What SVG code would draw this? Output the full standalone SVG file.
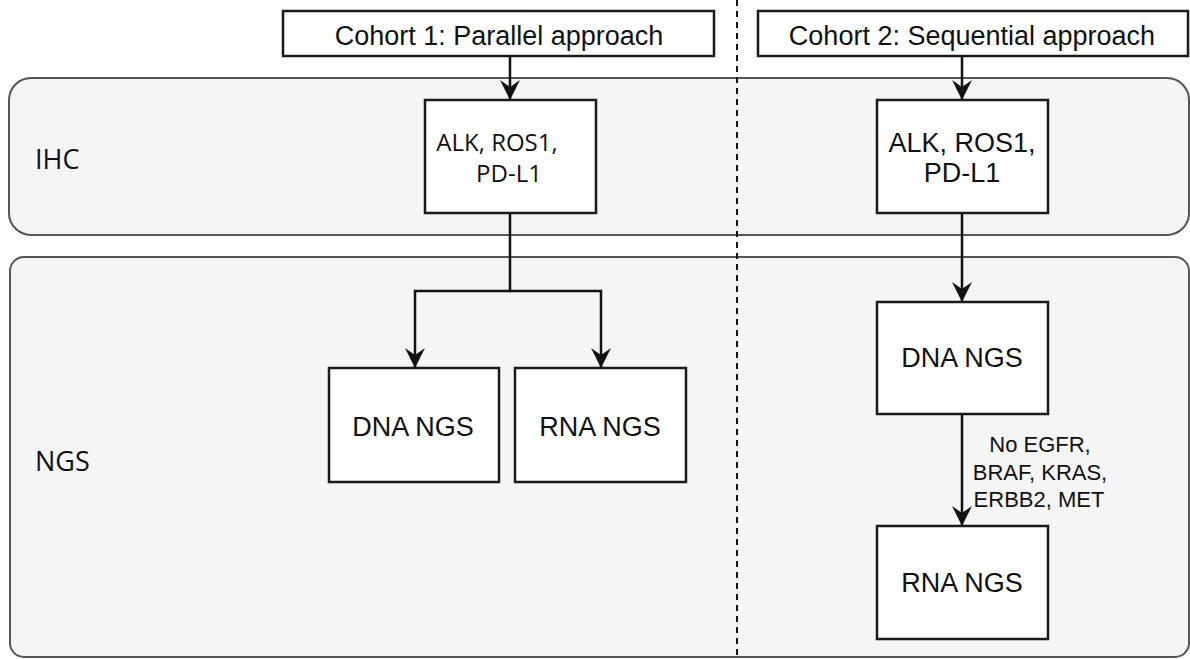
<svg xmlns="http://www.w3.org/2000/svg" width="1190" height="659" viewBox="0 0 1190 659">
<defs>
<marker id="arr" markerWidth="20" markerHeight="20" refX="20" refY="10" orient="auto" markerUnits="userSpaceOnUse" viewBox="0 0 20 20">
<path d="M0,0 L20,10 L0,20 L7,10 Z" fill="#111"/>
</marker>
<style>
.panel{fill:#f5f5f5;stroke:#555;stroke-width:2}
.box{fill:#fff;stroke:#1a1a1a;stroke-width:2.5}
.t{font-family:"Liberation Sans",Arial,sans-serif;fill:#111;text-anchor:middle}
.o{font-family:"Open Sans","Noto Sans",sans-serif;fill:#111}
.c{fill:none;stroke:#111;stroke-width:2.5}
</style>
</defs>
<rect width="1190" height="659" fill="#fff"/>
<g id="lane-ihc"><rect class="panel" x="9" y="78" width="1180" height="157" rx="22"/><text class="o" x="35" y="169" font-size="27">IHC</text></g>
<g id="lane-ngs"><rect class="panel" x="10" y="257" width="1179" height="400" rx="14"/><text class="o" x="35" y="471" font-size="27">NGS</text></g>
<line x1="737" y1="0" x2="737" y2="659" stroke="#111" stroke-width="2" stroke-dasharray="6,5"/>
<g id="cohort1"><rect class="box" x="283" y="11" width="431" height="45"/><text class="t" x="499" y="45" font-size="27">Cohort 1: Parallel approach</text></g>
<g id="cohort2"><rect class="box" x="758" y="11" width="430" height="45"/><text class="t" x="972" y="45" font-size="27">Cohort 2: Sequential approach</text></g>
<g id="ihc1"><rect class="box" x="425" y="100" width="171" height="113"/><text class="o" x="497" y="151" font-size="24" text-anchor="middle">ALK, ROS1,</text><text class="o" x="509" y="182" font-size="24" text-anchor="middle">PD-L1</text></g>
<g id="ihc2"><rect class="box" x="877" y="100" width="171" height="113"/><text class="t" x="962" y="152" font-size="27">ALK, ROS1,</text><text class="t" x="962" y="182" font-size="27">PD-L1</text></g>
<g id="dna1"><rect class="box" x="329" y="368" width="170" height="114"/><text class="t" x="413" y="436" font-size="27">DNA NGS</text></g>
<g id="rna1"><rect class="box" x="515" y="368" width="171" height="114"/><text class="t" x="600" y="436" font-size="27">RNA NGS</text></g>
<g id="dna2"><rect class="box" x="877" y="302" width="171" height="112"/><text class="t" x="962" y="367" font-size="27">DNA NGS</text></g>
<g id="rna2"><rect class="box" x="877" y="526" width="171" height="113"/><text class="t" x="962" y="592" font-size="27">RNA NGS</text></g>
<g id="connectors">
<path class="c" d="M510,56 V100" marker-end="url(#arr)"/>
<path class="c" d="M962,56 V100" marker-end="url(#arr)"/>
<path class="c" d="M510,213 V291 H415 V368" marker-end="url(#arr)"/>
<path class="c" d="M510,291 H601 V368" marker-end="url(#arr)"/>
<path class="c" d="M962,213 V302" marker-end="url(#arr)"/>
<path class="c" d="M962,414 V526" marker-end="url(#arr)"/>
<text class="t" x="1040" y="452" font-size="22">No EGFR,</text>
<text class="t" x="1040" y="480" font-size="22">BRAF, KRAS,</text>
<text class="t" x="1039" y="507" font-size="22">ERBB2, MET</text>
</g>
</svg>
